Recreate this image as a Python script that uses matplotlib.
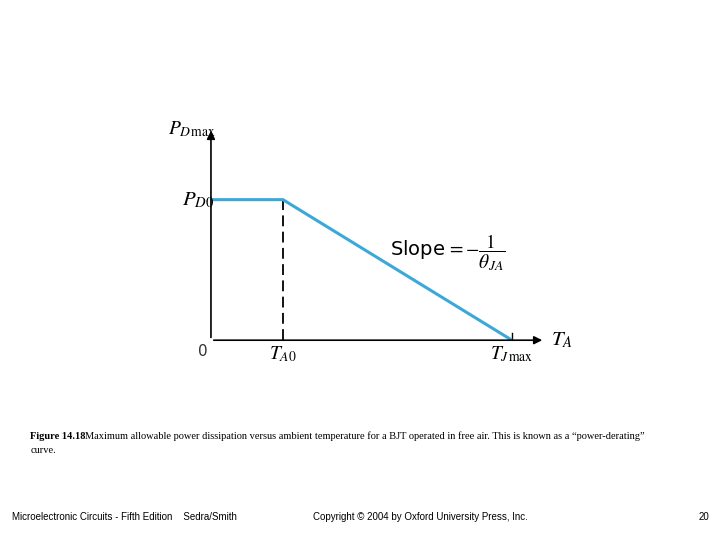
import matplotlib.pyplot as plt

plt.rcParams['mathtext.fontset'] = 'stix'

# derating curve, normalised units (TA0 = 1, PD0 = 1)
ta = [0.0, 1.0, 4.18]
pd_max = [1.0, 1.0, 0.0]
x_ticks = [0.0, 1.0, 4.18]
x_labels = ['0', r'$\boldsymbol{T_{A0}}$', r'$\boldsymbol{T_{J}}_{\mathrm{max}}$']

fig = plt.figure(figsize=(7.2, 5.4), dpi=100)
ax = fig.add_axes([0.293, 0.370, 0.464, 0.393])
ax.set_xlim(0, 4.64)
ax.set_ylim(0, 1.51)
ax.axis('off')

ax.plot(ta, pd_max, color='#3aa8d8', lw=2.2, solid_capstyle='butt', zorder=3)
ax.plot([ta[1], ta[1]], [0, pd_max[1]], color='black', lw=1.3, ls=(0, (6, 3)))

# axes with arrows
ax.annotate('', xy=(4.64, 0), xytext=(0, 0), annotation_clip=False,
            arrowprops=dict(arrowstyle='-|>', color='black', lw=1.2, mutation_scale=12))
ax.annotate('', xy=(0, 1.51), xytext=(0, 0), annotation_clip=False,
            arrowprops=dict(arrowstyle='-|>', color='black', lw=1.2, mutation_scale=12))
ax.plot([4.18, 4.18], [0, 0.05], color='black', lw=1)

ax.text(-0.05, -0.03, x_labels[0], ha='right', va='top', fontsize=11, color='#333333')
ax.text(x_ticks[1], -0.03, x_labels[1], ha='center', va='top', fontsize=14)
ax.text(x_ticks[2], -0.03, x_labels[2], ha='center', va='top', fontsize=14)
ax.text(4.72, 0.0, r'$T_A$', ha='left', va='center', fontsize=15)
ax.text(-0.6, 1.5, r'$\boldsymbol{P_{D}}_{\mathrm{max}}$', ha='left', va='center', fontsize=14)
ax.text(-0.4, 1.0, r'$\boldsymbol{P_{D0}}$', ha='left', va='center', fontsize=15)
ax.text(2.48, 0.62, r'Slope$\,=-\dfrac{1}{\boldsymbol{\theta_{JA}}}$', ha='left', va='center',
        fontsize=14)

cap = ('Maximum allowable power dissipation versus ambient temperature for a BJT operated '
       'in free air. This is known as a \u201cpower-derating\u201d')
fig.text(0.042, 0.183, 'Figure 14.18', fontsize=7.5, family='Liberation Serif', weight='bold', va='bottom')
fig.text(0.118, 0.183, cap, fontsize=7.5, family='Liberation Serif', va='bottom')
fig.text(0.042, 0.157, 'curve.', fontsize=7.5, family='Liberation Serif', va='bottom')
fig.text(0.017, 0.043, 'Microelectronic Circuits - Fifth Edition    Sedra/Smith', fontsize=7,
         family='Liberation Sans', va='center')
fig.text(0.435, 0.043, 'Copyright \u00a9 2004 by Oxford University Press, Inc.', fontsize=7,
         family='Liberation Sans', va='center')
fig.text(0.985, 0.043, '20', fontsize=7, family='Liberation Sans', va='center', ha='right')

fig.savefig('out.png', dpi=100)
